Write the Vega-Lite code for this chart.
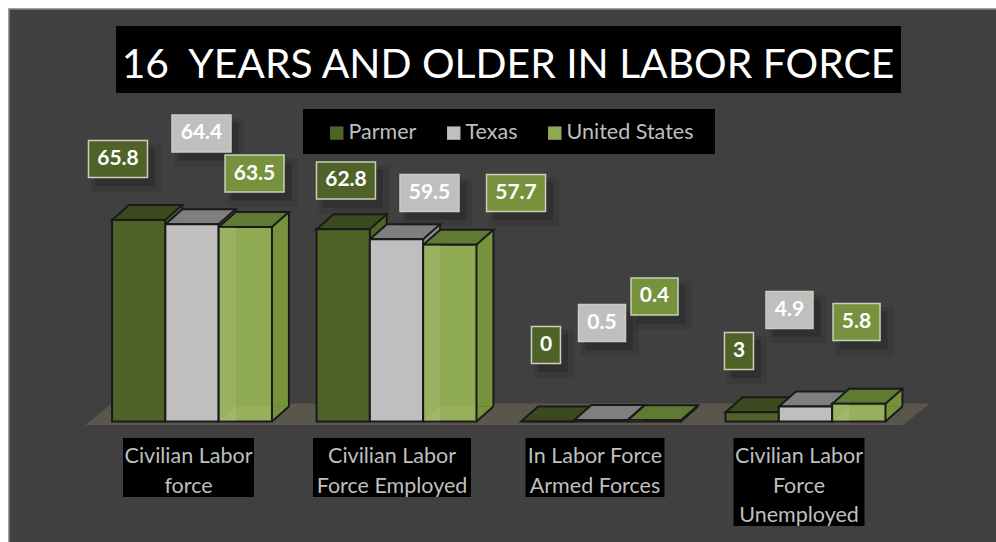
{
"$schema":"https://vega.github.io/schema/vega-lite/v6.json",
"width":988,"height":534,"autosize":"none",
"padding":{"left":9,"top":9,"right":0,"bottom":0},
"background":"#ffffff",
"view":{"fill":"#404040","stroke":"#808080","strokeWidth":1.5},
"title":{"text":"16\u00a0 YEARS AND OLDER IN LABOR FORCE","font":"Lato","fontSize":40.8,"fontWeight":"normal","color":"#ffffff","anchor":"middle","frame":"group","baseline":"alphabetic","offset":-68,"dx":5,"dy":42},
"params":[
{"name":"seriesDx","value":{"Parmer":-53.33,"Texas":0,"United States":53.33}},
{"name":"labelDx","value":{"65.8":-20.7,"64.4":9.5,"63.5":9.2,"62.8":2.8,"59.5":33,"57.7":66.2,"0":-1.7,"0.5":1,"0.4":0.2,"3":-13.2,"4.9":-16,"5.8":-2.3}},
{"name":"labelDy","value":{"65.8":-61,"64.4":-90.8,"63.5":-53.5,"62.8":-48.7,"59.5":-46.3,"57.7":-51.8,"0":-76.5,"0.5":-97,"0.4":-123.8,"3":-61.3,"4.9":-96.5,"5.8":-81.7}}
],
"data":{"values":[
{"category":"Civilian Labor force","series":"Parmer","value":65.8},
{"category":"Civilian Labor force","series":"Texas","value":64.4},
{"category":"Civilian Labor force","series":"United States","value":63.5},
{"category":"Civilian Labor Force Employed","series":"Parmer","value":62.8},
{"category":"Civilian Labor Force Employed","series":"Texas","value":59.5},
{"category":"Civilian Labor Force Employed","series":"United States","value":57.7},
{"category":"In Labor Force Armed Forces","series":"Parmer","value":0},
{"category":"In Labor Force Armed Forces","series":"Texas","value":0.5},
{"category":"In Labor Force Armed Forces","series":"United States","value":0.4},
{"category":"Civilian Labor Force Unemployed","series":"Parmer","value":3},
{"category":"Civilian Labor Force Unemployed","series":"Texas","value":4.9},
{"category":"Civilian Labor Force Unemployed","series":"United States","value":5.8}
]},
"encoding":{"x":{"field":"category","type":"nominal","axis":null,"sort":null,"scale":{"domain":["Civilian Labor force","Civilian Labor Force Employed","In Labor Force Armed Forces","Civilian Labor Force Unemployed"],"range":[80.75,898.75],"paddingInner":0.218,"paddingOuter":0.109}}},
"layer":[
{"data":{"values":[{"category":"Civilian Labor force"}]},
 "mark":{"type":"point","filled":true,"opacity":1,"size":4,"fill":"#5a564b","strokeWidth":0,"shape":"M-107,3.5L711,3.5L738,-18L-80,-18Z"},
 "encoding":{"y":{"datum":0,"type":"quantitative","axis":null,"scale":{"domain":[0,134.7],"range":[412.5,0],"nice":false}}}},
{"data":{"values":[{"title":"16  YEARS AND OLDER IN LABOR FORCE","category":"Civilian Labor force"}]},
 "mark":{"type":"point","filled":true,"opacity":1,"size":4,"fill":"#000000","strokeWidth":0,"shape":"M-76,-395.5H709V-328.5H-76Z"},
 "encoding":{"y":{"datum":0,"type":"quantitative"}}},
{"data":{"values":[{"legendbox":"legend","category":"Civilian Labor force"}]},
 "mark":{"type":"point","filled":true,"opacity":1,"size":4,"fill":"#000000","strokeWidth":0,"shape":"M111,-312.5H523V-267.5H111Z"},
 "encoding":{"y":{"datum":0,"type":"quantitative"}}},
{"mark":{"type":"bar","width":17,"xOffset":{"expr":"seriesDx[datum.series]+35.1"},"yOffset":-15,"y2Offset":-15,"strokeWidth":0,"fill":{"expr":"{'Parmer':'#4f6228','Texas':'#8c8c8c','United States':'#76923c'}[datum.series]"}},
 "encoding":{"y":{"field":"value","type":"quantitative","stack":null},"y2":{"datum":0}}},
{"mark":{"type":"point","filled":true,"opacity":1,"size":4,"strokeWidth":0,"shape":"M26.6,0L26.6,-15H43.6Z","xOffset":{"expr":"seriesDx[datum.series]"},"fill":{"expr":"{'Parmer':'#4f6228','Texas':'#8c8c8c','United States':'#76923c'}[datum.series]"}},
 "encoding":{"y":{"datum":0,"type":"quantitative"}}},
{"mark":{"type":"point","filled":false,"opacity":1,"size":4,"stroke":"#1a1a1a","strokeWidth":2,"shape":"M26.6,0L43.6,-15","xOffset":{"expr":"seriesDx[datum.series]"}},
 "encoding":{"y":{"datum":0,"type":"quantitative"}}},
{"mark":{"type":"rule","xOffset":{"expr":"seriesDx[datum.series]+43.6"},"yOffset":-15,"y2Offset":-15,"stroke":"#1a1a1a","strokeWidth":2},
 "encoding":{"y":{"field":"value","type":"quantitative","stack":null},"y2":{"datum":0}}},
{"mark":{"type":"point","filled":true,"opacity":1,"size":4,"stroke":"#1a1a1a","strokeWidth":2,"shape":"M-26.6,0H26.6L43.6,-15H-9.6Z","xOffset":{"expr":"seriesDx[datum.series]"},"fill":{"expr":"{'Parmer':'#3b4a1e','Texas':'#7f7f7f','United States':'#5f7a33'}[datum.series]"}},
 "encoding":{"y":{"field":"value","type":"quantitative","stack":null}}},
{"mark":{"type":"bar","stroke":"#1a1a1a","strokeWidth":2},
 "encoding":{"xOffset":{"field":"series","sort":null,"scale":{"domain":["Parmer","Texas","United States"],"paddingInner":0}},"y":{"field":"value","type":"quantitative","stack":null},"y2":{"datum":0},
  "color":{"field":"series","type":"nominal","sort":null,"scale":{"domain":["Parmer","Texas","United States"],"range":["#4f6228","#bfbfbf","#8fab52"]},
   "legend":{"orient":"none","legendX":317,"legendY":113,"direction":"horizontal","title":null,"symbolType":"square","symbolSize":180,"symbolStrokeWidth":0,"labelFont":"Lato","labelFontSize":21.5,"labelColor":"#bfbfbf","labelOffset":1,"columnPadding":26,"padding":0}}}},
{"transform":[{"filter":"datum.series=='United States'"}],
 "mark":{"type":"bar","width":16,"xOffset":{"expr":"seriesDx[datum.series]-17.5"},"fill":"#ffffff","opacity":0.09,"strokeWidth":0},
 "encoding":{"y":{"field":"value","type":"quantitative","stack":null},"y2":{"datum":0}}},
{"transform":[{"filter":"datum.series=='United States' && datum.value>1"}],
 "mark":{"type":"point","filled":true,"opacity":0.07,"size":4,"fill":"#ffffff","strokeWidth":0,"shape":"M-25.6,-1L-9.6,-15H25.6V-1Z","xOffset":{"expr":"seriesDx[datum.series]"}},
 "encoding":{"y":{"datum":0,"type":"quantitative"}}},
{"mark":{"type":"point","filled":true,"size":4,"opacity":0.15,"fill":"#1c1c1c","strokeWidth":0,"xOffset":{"expr":"seriesDx[datum.series]+labelDx[''+datum.value]+8"},"yOffset":{"expr":"labelDy[''+datum.value]+9"},
  "shape":{"expr":"length(''+datum.value)>=4?'M-35,-24H35V24H-35Z':length(''+datum.value)==3?'M-29,-24H29V24H-29Z':'M-20,-24H20V24H-20Z'"}},
 "encoding":{"y":{"field":"value","type":"quantitative","stack":null}}},
{"mark":{"type":"point","filled":true,"size":4,"opacity":0.3,"fill":"#1c1c1c","strokeWidth":0,"xOffset":{"expr":"seriesDx[datum.series]+labelDx[''+datum.value]+7"},"yOffset":{"expr":"labelDy[''+datum.value]+8"},
  "shape":{"expr":"length(''+datum.value)>=4?'M-30,-19H30V19H-30Z':length(''+datum.value)==3?'M-24,-19H24V19H-24Z':'M-15,-19H15V19H-15Z'"}},
 "encoding":{"y":{"field":"value","type":"quantitative","stack":null}}},
{"mark":{"type":"point","filled":true,"size":4,"opacity":1,"stroke":"#c9cfbb","strokeWidth":1.5,"xOffset":{"expr":"seriesDx[datum.series]+labelDx[''+datum.value]"},"yOffset":{"expr":"labelDy[''+datum.value]"},
  "fill":{"expr":"{'Parmer':'#4f6228','Texas':'#bfbfbf','United States':'#76923c'}[datum.series]"},
  "shape":{"expr":"length(''+datum.value)>=4?'M-29.5,-18.5H29.5V18.5H-29.5Z':length(''+datum.value)==3?'M-23.5,-18.5H23.5V18.5H-23.5Z':'M-14.5,-18.5H14.5V18.5H-14.5Z'"}},
 "encoding":{"y":{"field":"value","type":"quantitative","stack":null}}},
{"mark":{"type":"text","font":"Lato","fontWeight":"bold","fontSize":21,"color":"#ffffff","baseline":"middle","align":"center","xOffset":{"expr":"seriesDx[datum.series]+labelDx[''+datum.value]"},"yOffset":{"expr":"labelDy[''+datum.value]"}},
 "encoding":{"y":{"field":"value","type":"quantitative","stack":null},"text":{"field":"value","type":"nominal"}}},
{"data":{"values":[
 {"category":"Civilian Labor force","lines":["Civilian Labor","force"]},
 {"category":"Civilian Labor Force Employed","lines":["Civilian Labor","Force Employed"]},
 {"category":"In Labor Force Armed Forces","lines":["In Labor Force","Armed Forces"]},
 {"category":"Civilian Labor Force Unemployed","lines":["Civilian Labor","Force","Unemployed"]}]},
 "mark":{"type":"point","filled":true,"size":4,"opacity":1,"fill":"#000000","strokeWidth":0,
  "shape":{"expr":"{'Civilian Labor force':'M-69,16.5H62V75.5H-69Z','Civilian Labor Force Employed':'M-83.5,16.5H74.5V75.5H-83.5Z','In Labor Force Armed Forces':'M-75.5,16.5H63.5V75.5H-75.5Z','Civilian Labor Force Unemployed':'M-72,16.5H59V104.5H-72Z'}[datum.category]"}},
 "encoding":{"y":{"datum":0,"type":"quantitative"}}},
{"data":{"values":[
 {"category":"Civilian Labor force","lines":["Civilian Labor","force"]},
 {"category":"Civilian Labor Force Employed","lines":["Civilian Labor","Force Employed"]},
 {"category":"In Labor Force Armed Forces","lines":["In Labor Force","Armed Forces"]},
 {"category":"Civilian Labor Force Unemployed","lines":["Civilian Labor","Force","Unemployed"]}]},
 "mark":{"type":"text","font":"Lato","fontSize":21.5,"color":"#bfbfbf","align":"center","baseline":"alphabetic","lineHeight":29.5,"yOffset":41.5,
  "xOffset":{"expr":"{'Civilian Labor force':-3.5,'Civilian Labor Force Employed':-4.5,'In Labor Force Armed Forces':-6,'Civilian Labor Force Unemployed':-6.5}[datum.category]"}},
 "encoding":{"y":{"datum":0,"type":"quantitative"},"text":{"field":"lines"}}}
]
}
